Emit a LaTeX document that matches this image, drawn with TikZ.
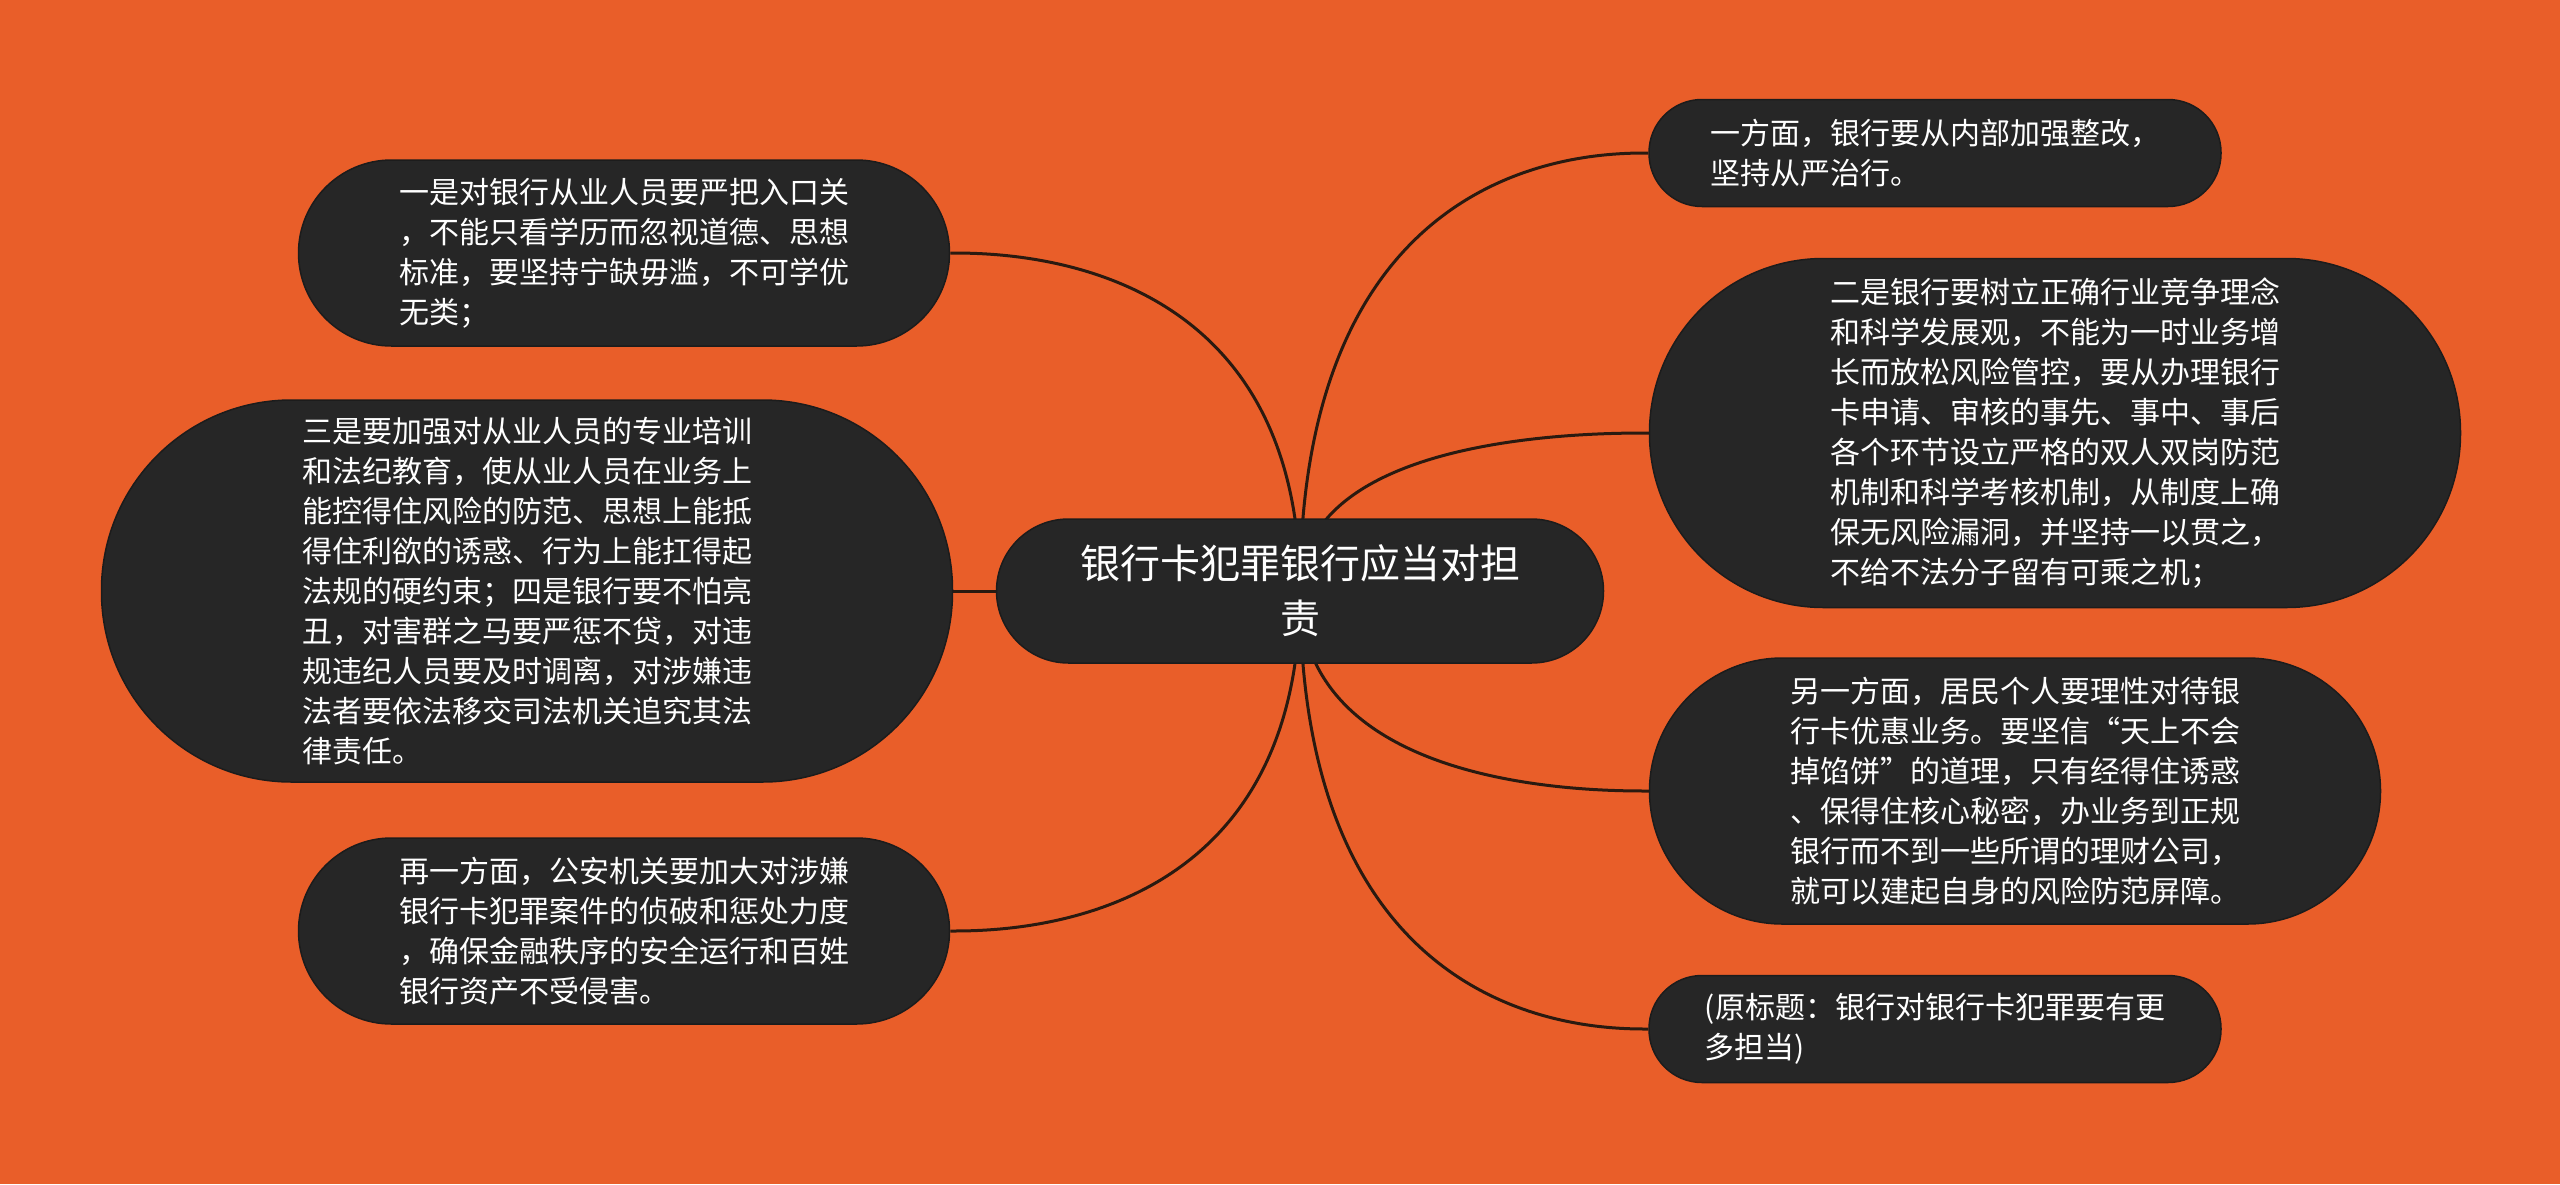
\documentclass[tikz,border=0pt]{standalone}
\usepackage{fontspec}
\newfontfamily\cjk{Noto Sans CJK SC}
\usetikzlibrary{calc}
\definecolor{bgorange}{HTML}{E95E29}
\definecolor{nodefill}{HTML}{262626}
\definecolor{nodeedge}{HTML}{1C1C1C}
\definecolor{linecol}{HTML}{2A1A10}
\pgfdeclarelayer{bg}
\pgfsetlayers{bg,main}
\tikzset{
  topic/.style={draw=nodeedge, line width=1.5pt, fill=nodefill, text=white,
    align=left, inner sep=0pt, font=\cjk\fontsize{30}{40}\selectfont},
  central/.style={topic, align=center, font=\cjk\fontsize{40}{55}\selectfont},
  conn/.style={draw=linecol, line width=3pt}
}
\begin{document}
\begin{tikzpicture}[x=1pt,y=-1pt]
\begin{pgfonlayer}{bg}
\fill[bgorange] (0,0) rectangle (2560,1184);
\end{pgfonlayer}
\useasboundingbox (0,0) rectangle (2560,1184);

\node[central, minimum width=607pt, minimum height=144pt, rounded corners=72pt] (c) at (1300,591)
  {银行卡犯罪银行应当对担\\责};

\node[topic, minimum width=651pt, minimum height=186pt, rounded corners=93pt] (l1) at (624,253)
  {一是对银行从业人员要严把入口关\\，不能只看学历而忽视道德、思想\\标准，要坚持宁缺毋滥，不可学优\\无类；};

\node[topic, minimum width=851pt, minimum height=382pt, rounded corners=190pt] (l2) at (527,591)
  {三是要加强对从业人员的专业培训\\和法纪教育，使从业人员在业务上\\能控得住风险的防范、思想上能抵\\得住利欲的诱惑、行为上能扛得起\\法规的硬约束；四是银行要不怕亮\\丑，对害群之马要严惩不贷，对违\\规违纪人员要及时调离，对涉嫌违\\法者要依法移交司法机关追究其法\\律责任。};

\node[topic, minimum width=651pt, minimum height=186pt, rounded corners=93pt] (l3) at (624,931)
  {再一方面，公安机关要加大对涉嫌\\银行卡犯罪案件的侦破和惩处力度\\，确保金融秩序的安全运行和百姓\\银行资产不受侵害。};

\node[topic, minimum width=572pt, minimum height=107pt, rounded corners=53pt] (r1) at (1935,153)
  {一方面，银行要从内部加强整改，\\坚持从严治行。};

\node[topic, minimum width=811pt, minimum height=349pt, rounded corners=174pt] (r2) at (2055,433)
  {二是银行要树立正确行业竞争理念\\和科学发展观，不能为一时业务增\\长而放松风险管控，要从办理银行\\卡申请、审核的事先、事中、事后\\各个环节设立严格的双人双岗防范\\机制和科学考核机制，从制度上确\\保无风险漏洞，并坚持一以贯之，\\不给不法分子留有可乘之机；};

\node[topic, minimum width=731pt, minimum height=266pt, rounded corners=133pt] (r3) at (2015,791)
  {另一方面，居民个人要理性对待银\\行卡优惠业务。要坚信“天上不会\\掉馅饼”的道理，只有经得住诱惑\\、保得住核心秘密，办业务到正规\\银行而不到一些所谓的理财公司，\\就可以建起自身的风险防范屏障。};

\node[topic, minimum width=572pt, minimum height=107pt, rounded corners=53pt] (r4) at (1935,1029)
  {(原标题：银行对银行卡犯罪要有更\\多担当)};

\begin{pgfonlayer}{bg}
\foreach \t/\a in {l1/east,l2/east,l3/east,r1/west,r2/west,r3/west,r4/west}{
  \draw[conn] (c.center) .. controls (c.center |- \t.\a)
     and ($(c.center |- \t.\a)!0.845!(\t.\a)$) .. (\t.\a);
}
\end{pgfonlayer}
\end{tikzpicture}
\end{document}
